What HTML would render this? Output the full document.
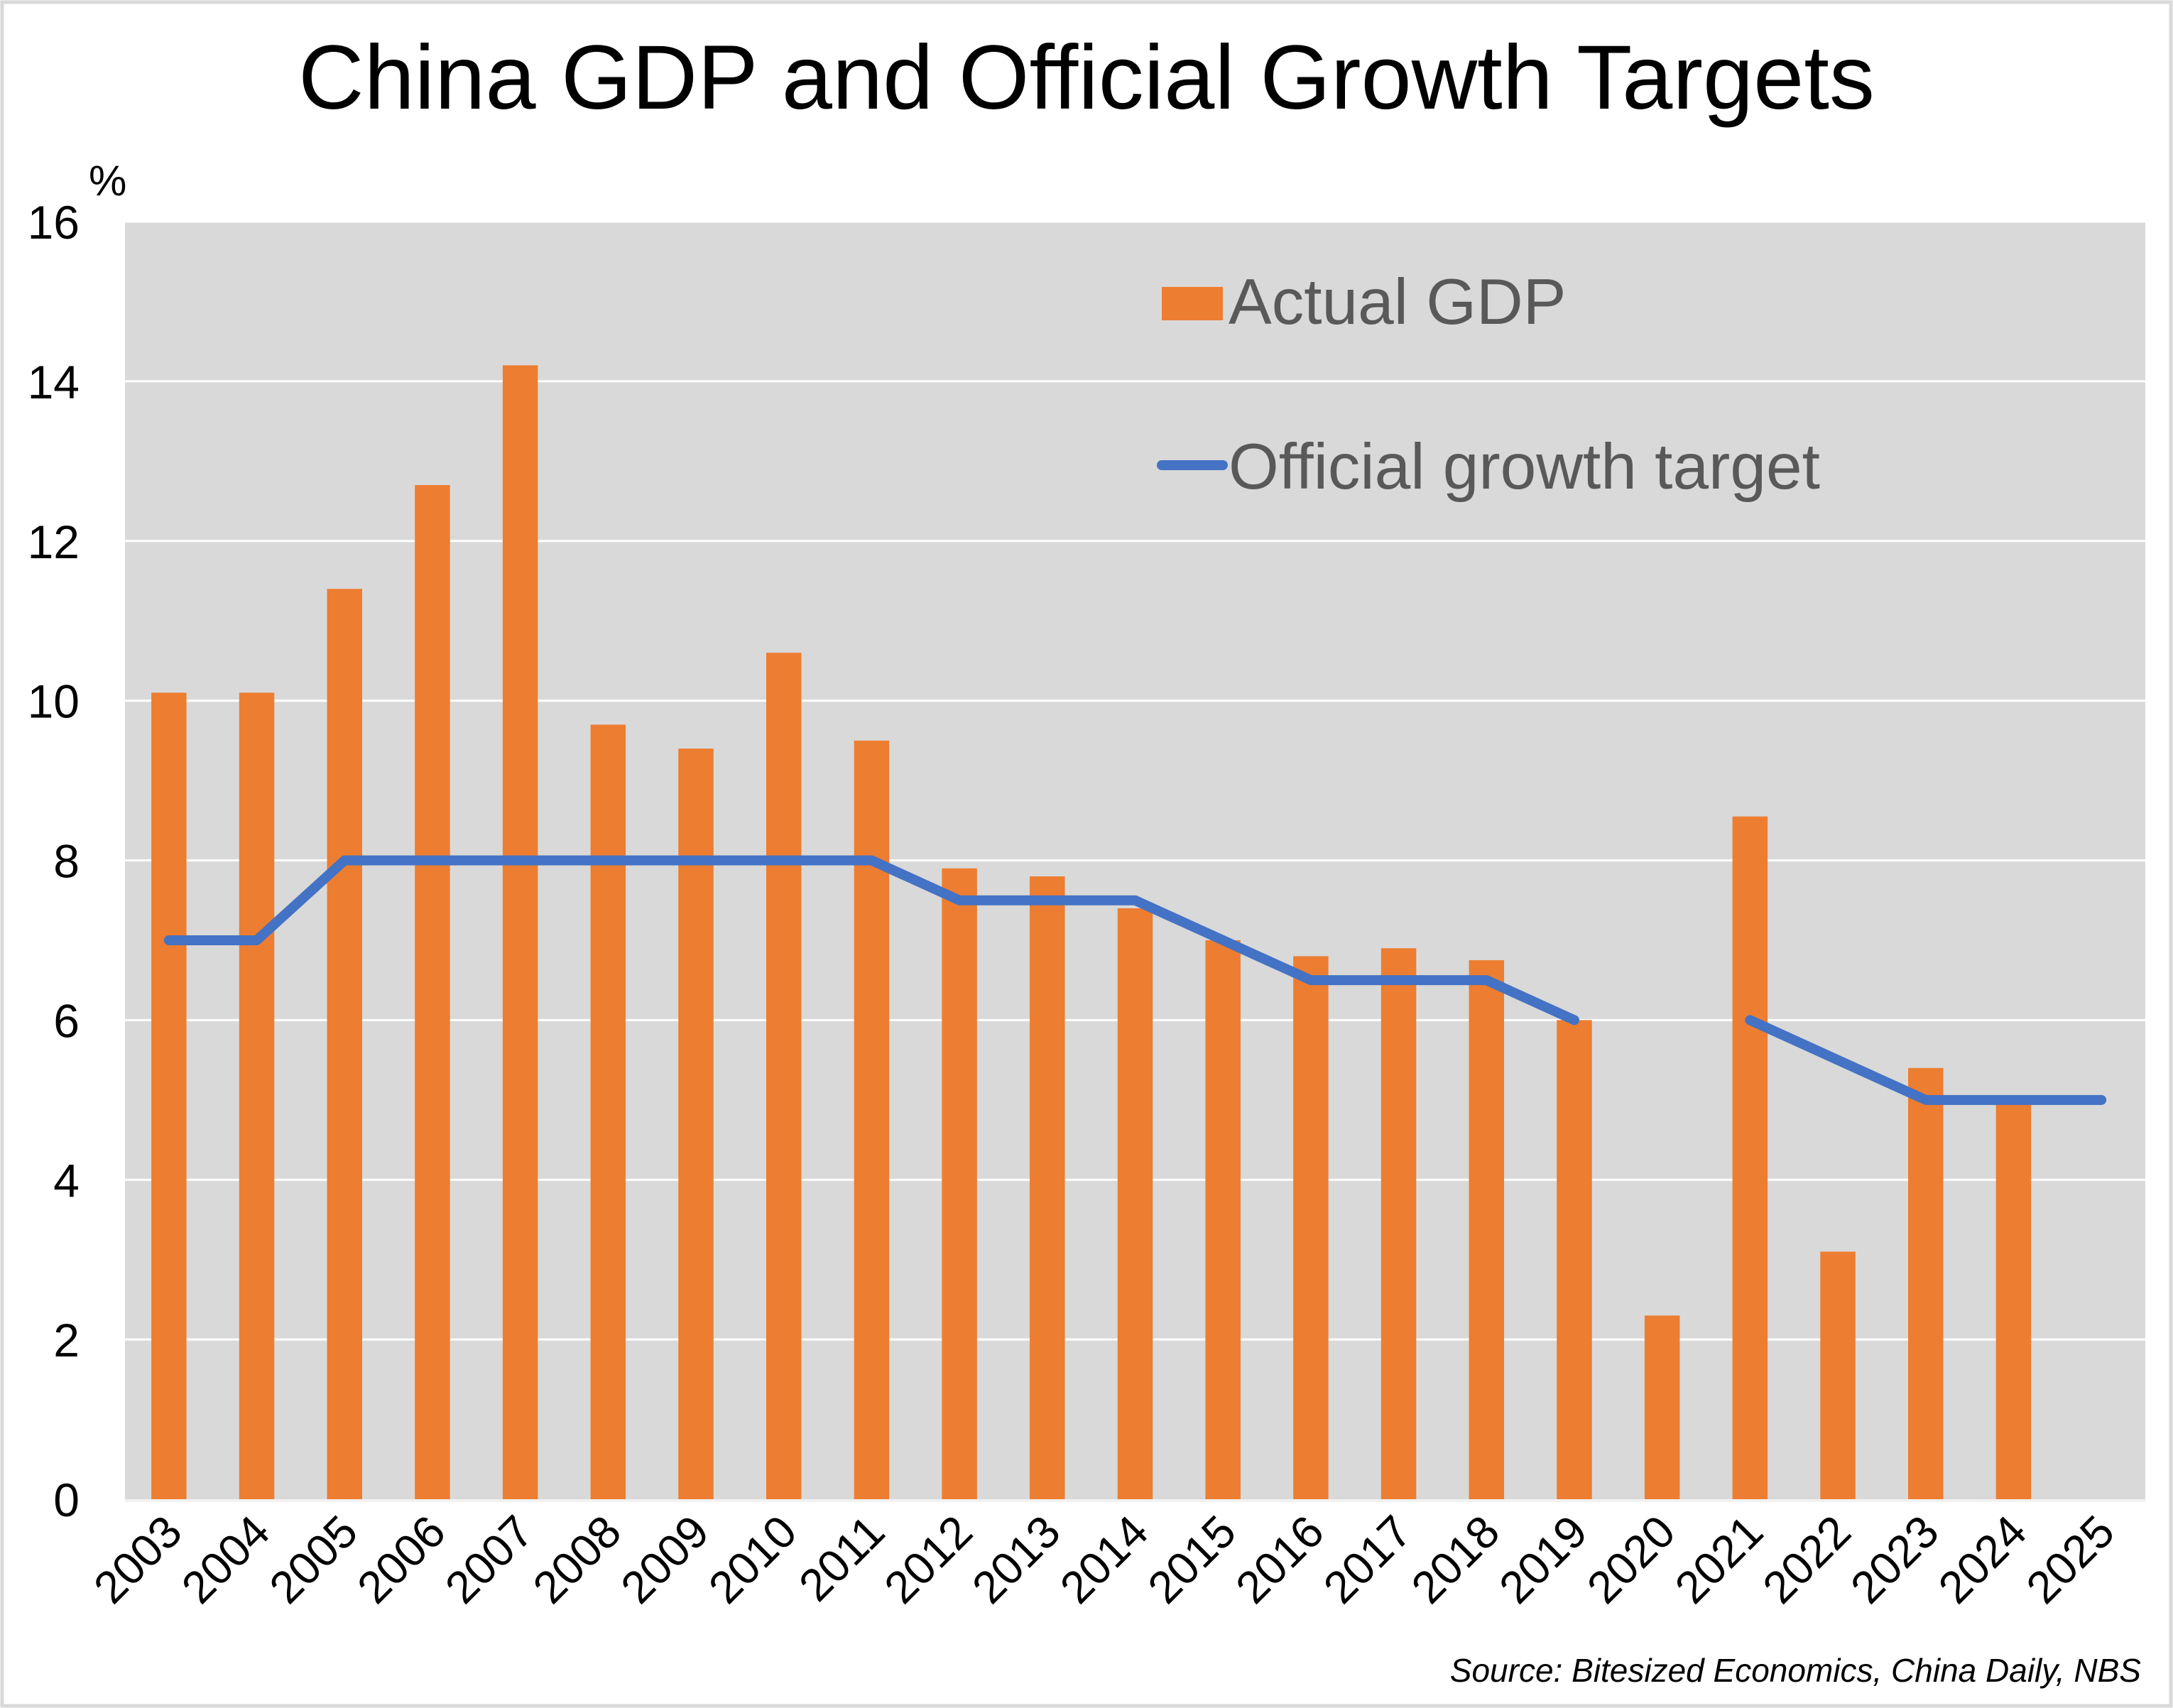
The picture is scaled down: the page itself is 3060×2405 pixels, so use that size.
<!DOCTYPE html>
<html><head><meta charset="utf-8"><style>
html,body{margin:0;padding:0;background:#fff;}
svg{display:block;font-family:"Liberation Sans",Arial,sans-serif;}
</style></head><body>
<svg id="chart" width="3060" height="2405" viewBox="0 0 3060 2405">
<rect x="3" y="3" width="3054" height="2399" fill="#fff" stroke="#d9d9d9" stroke-width="5"/>
<text x="1530" y="153" font-size="128" text-anchor="middle" fill="#000">China GDP and Official Growth Targets</text>
<rect x="176" y="312" width="2845" height="1799" fill="#d9d9d9"/>
<g id="grid"></g><g id="bars"></g><g id="line"></g><g id="yt"></g><g id="xt"></g>
<text x="125" y="275" font-size="60" fill="#000">%</text>
<rect x="1636" y="404" width="86" height="47" fill="#ed7d31"/>
<text x="1730" y="456" font-size="91" fill="#595959">Actual GDP</text>
<line x1="1636" y1="655" x2="1722" y2="655" stroke="#4472c4" stroke-width="14" stroke-linecap="round"/>
<text x="1730" y="688" font-size="91" fill="#595959">Official growth target</text>
<text x="3015" y="2368" font-size="46" font-style="italic" text-anchor="end" fill="#000">Source: Bitesized Economics, China Daily, NBS</text>
</svg>
<script>
const years=['2003','2004','2005','2006','2007','2008','2009','2010','2011','2012','2013','2014','2015','2016','2017','2018','2019','2020','2021','2022','2023','2024','2025'];
const gdp=[10.1,10.1,11.4,12.7,14.2,9.7,9.4,10.6,9.5,7.9,7.8,7.4,7.0,6.8,6.9,6.75,6.0,2.3,8.55,3.1,5.4,5.0,null];
const target=[7,7,8,8,8,8,8,8,8,7.5,7.5,7.5,7,6.5,6.5,6.5,6,null,6,5.5,5,5,5];
const yTicks=[0,2,4,6,8,10,12,14,16];
const NS='http://www.w3.org/2000/svg';
const L=176,R=3021,T=312,B=2111,YMAX=16;
const band=(R-L)/years.length;
const xc=i=>L+band*(i+0.5);
const y=v=>B-(v/YMAX)*(B-T);
function mk(tag,attrs,parent){const e=document.createElementNS(NS,tag);for(const k in attrs)e.setAttribute(k,attrs[k]);document.getElementById(parent).appendChild(e);return e;}
yTicks.forEach(t=>{
  if(t>0){const g=mk('line',{x1:L,x2:R,y1:y(t),y2:y(t),stroke:'#fff','stroke-width':3},'grid');
  
  }
  const tx=mk('text',{x:112,y:y(t)+24,'font-size':66,'text-anchor':'end',fill:'#000'},'yt');
  tx.textContent=t;
  
  
});
const base=mk('line',{x1:L,x2:R,y1:B+2,y2:B+2,stroke:'#f2f2f2','stroke-width':4},'grid');


const bw=band*0.4;
gdp.forEach((v,i)=>{
  if(v==null)return;
  const r=mk('rect',{x:xc(i)-bw/2,y:y(v),width:bw,height:B-y(v),fill:'#ed7d31'},'bars');
  
  
});
let segs=[],cur=[];
target.forEach((v,i)=>{if(v==null){if(cur.length)segs.push(cur);cur=[];}else cur.push(xc(i)+','+y(v));});
if(cur.length)segs.push(cur);
segs.forEach(s=>{
  const p=mk('polyline',{points:s.join(' '),fill:'none',stroke:'#4472c4','stroke-width':14,'stroke-linejoin':'round','stroke-linecap':'round'},'line');
  
  
});
years.forEach((yr,i)=>{
  const x=xc(i)+22,yy=B+50;
  const t=mk('text',{x:x,y:yy,'font-size':64,'text-anchor':'end',fill:'#000',transform:'rotate(-45 '+x+' '+yy+')'},'xt');
  t.textContent=yr;
  
  
});
</script>
</body></html>
